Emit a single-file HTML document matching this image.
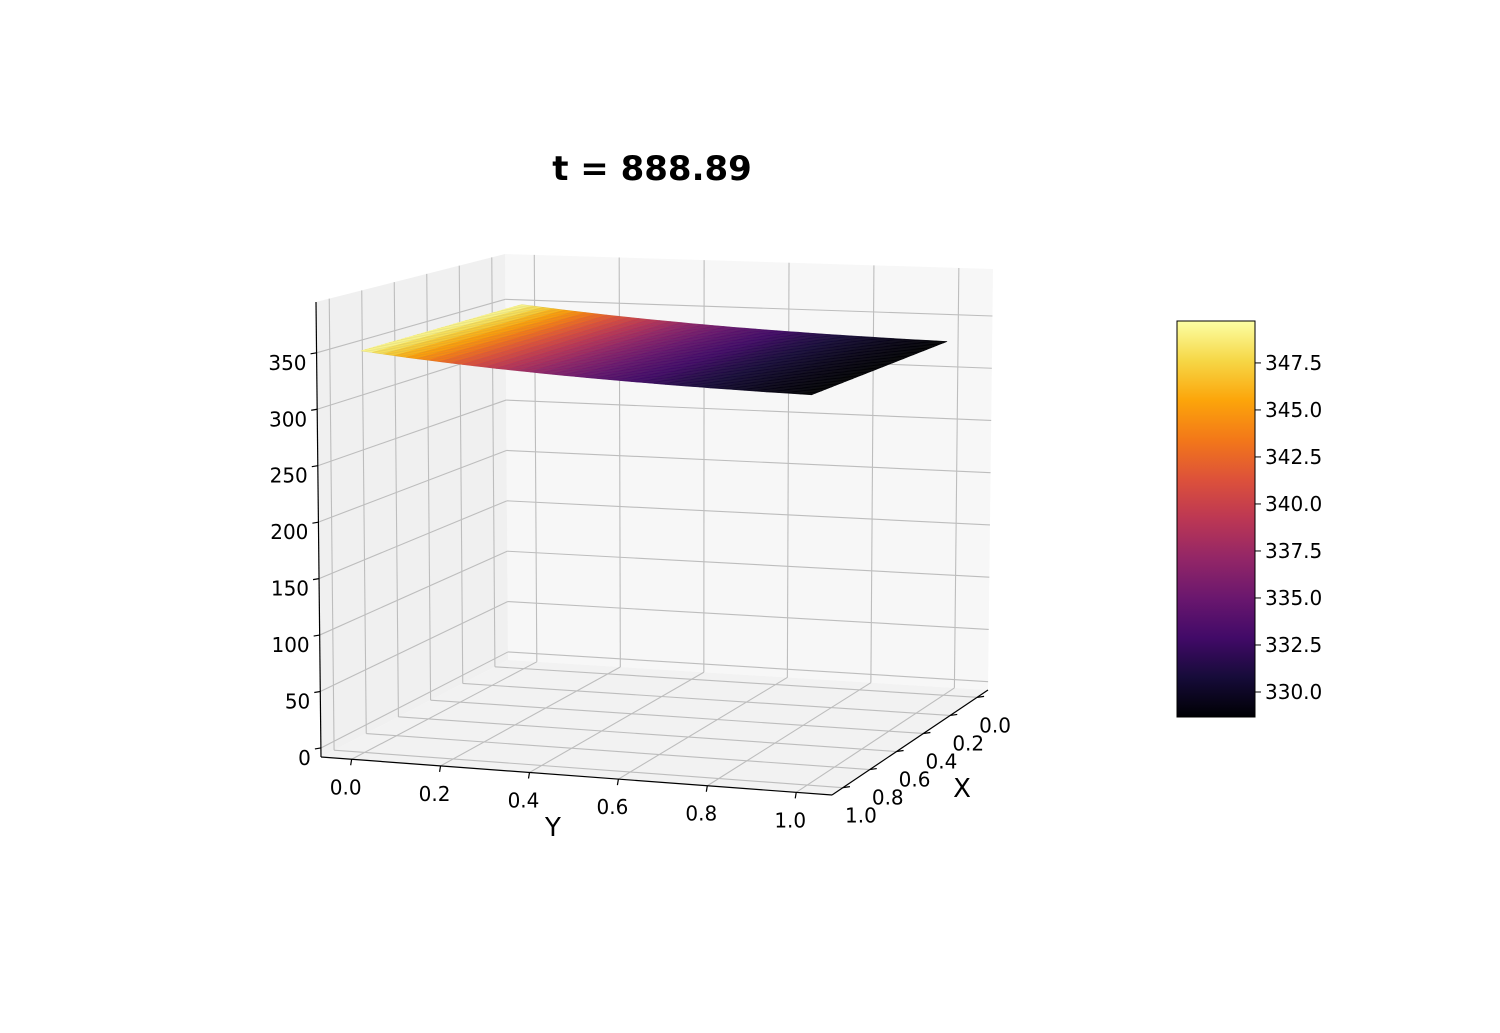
<!DOCTYPE html>
<html><head><meta charset="utf-8">
<style>
html,body{margin:0;padding:0;background:#fff;}
svg text{font-family:"DejaVu Sans","Liberation Sans",sans-serif;}
</style></head>
<body>
<svg id="chart" width="1500" height="1028" viewBox="0 0 1500 1028" xmlns="http://www.w3.org/2000/svg">
<text x="652" y="180" text-anchor="middle" font-size="34" font-weight="bold">t = 888.89</text>
<g id="panels"></g><g id="grid"></g><g id="surf"></g><g id="axes"></g><g id="cbar"></g>
</svg>
<script>
// ---- data ----
const xTicks = [0.0, 0.2, 0.4, 0.6, 0.8, 1.0];
const yTicks = [0.0, 0.2, 0.4, 0.6, 0.8, 1.0];
const zTicks = [0, 50, 100, 150, 200, 250, 300, 350];
const xTickLabels = ["0.0","0.2","0.4","0.6","0.8","1.0"];
const yTickLabels = ["0.0","0.2","0.4","0.6","0.8","1.0"];
const cbTicks = [330.0, 332.5, 335.0, 337.5, 340.0, 342.5, 345.0, 347.5];
const cbTickLabels = ["330.0","332.5","335.0","337.5","340.0","342.5","345.0","347.5"];
// temperature profile sampled along Y (surface nearly uniform along X)
const ySamples = [0.0, 0.1, 0.2, 0.3, 0.4, 0.5, 0.6, 0.7, 0.8, 0.9, 1.0];
const tProfile = [349.6, 345.6, 342.2, 339.3, 336.8, 334.7, 333.0, 331.5, 330.3, 329.3, 328.6];
const cMin = 328.67, cMax = 349.73;

// ---- projection ----
const B00=[508,660],B01=[988,690],B10=[321,757],B11=[832,795];
const T00=[505,254],T01=[993,269],T10=[316,302],T11=[838,323];
const uOf = x => 0.07 + 0.86*x;
const vOf = y => 0.06 + 0.87*y;
const zMin=-8, zMax=395;
const wOf = z => (z - zMin)/(zMax - zMin);
function bil(A,B,C,D,u,v){
  const a0=A[0]+(B[0]-A[0])*v, a1=A[1]+(B[1]-A[1])*v;
  const c0=C[0]+(D[0]-C[0])*v, c1=C[1]+(D[1]-C[1])*v;
  return [a0+(c0-a0)*u, a1+(c1-a1)*u];
}
function P(u,v,w){
  const b=bil(B00,B01,B10,B11,u,v), t=bil(T00,T01,T10,T11,u,v);
  return [b[0]+(t[0]-b[0])*w, b[1]+(t[1]-b[1])*w];
}
const NS="http://www.w3.org/2000/svg";
function mk(tag,attrs,parent){const e=document.createElementNS(NS,tag);for(const k in attrs)e.setAttribute(k,attrs[k]);parent.appendChild(e);return e;}
const pts = a => a.map(p=>p[0].toFixed(1)+","+p[1].toFixed(1)).join(" ");

const inf=[[0,0,0,4],[0.1,22,11,57],[0.2,66,10,104],[0.3,106,23,110],[0.4,147,38,103],[0.5,188,55,84],[0.6,221,81,58],[0.7,243,120,25],[0.8,252,165,10],[0.9,246,215,70],[1,252,255,164]];
function cmap(t){t=Math.max(0,Math.min(1,t));for(let i=1;i<inf.length;i++){if(t<=inf[i][0]){const a=inf[i-1],b=inf[i],f=(t-a[0])/(b[0]-a[0]);return `rgb(${Math.round(a[1]+(b[1]-a[1])*f)},${Math.round(a[2]+(b[2]-a[2])*f)},${Math.round(a[3]+(b[3]-a[3])*f)})`;}}return "rgb(252,255,164)";}

const gP=document.getElementById('panels');
let e;
e=mk('polygon',{points:pts([P(0,0,0),P(0,1,0),P(0,1,1),P(0,0,1)]),fill:'#f7f7f7'},gP);

e=mk('polygon',{points:pts([P(0,0,0),P(1,0,0),P(1,0,1),P(0,0,1)]),fill:'#f0f0f0'},gP);

e=mk('polygon',{points:pts([P(0,0,0),P(0,1,0),P(1,1,0),P(1,0,0)]),fill:'#f2f2f2'},gP);


const gG=document.getElementById('grid');
function gl(a,b,name){const l=mk('line',{x1:a[0],y1:a[1],x2:b[0],y2:b[1],stroke:'#bdbdbd','stroke-width':1.1},gG);}
zTicks.forEach(z=>{const w=wOf(z);gl(P(0,0,w),P(0,1,w),'grid-z-back');gl(P(0,0,w),P(1,0,w),'grid-z-side');});
yTicks.forEach(y=>{const v=vOf(y);gl(P(0,v,0),P(0,v,1),'grid-y-back');gl(P(0,v,0),P(1,v,0),'grid-y-floor');});
xTicks.forEach(x=>{const u=uOf(x);gl(P(u,0,0),P(u,0,1),'grid-x-side');gl(P(u,0,0),P(u,1,0),'grid-x-floor');});

function tAt(y){for(let i=1;i<ySamples.length;i++){if(y<=ySamples[i]){const f=(y-ySamples[i-1])/(ySamples[i]-ySamples[i-1]);return tProfile[i-1]+(tProfile[i]-tProfile[i-1])*f;}}return tProfile[tProfile.length-1];}
const gS=document.getElementById('surf');
const N=40;
for(let i=0;i<N;i++){for(let j=0;j<N;j++){
  const x0=i/N,x1=(i+1)/N,y0=j/N,y1=(j+1)/N;
  const z00=tAt(y0),z01=tAt(y1);
  const q=[P(uOf(x0),vOf(y0),wOf(z00)),P(uOf(x0),vOf(y1),wOf(z01)),P(uOf(x1),vOf(y1),wOf(z01)),P(uOf(x1),vOf(y0),wOf(z00))];
  const c=cmap(((z00+z01)/2-cMin)/(cMax-cMin));
  const p=mk('polygon',{points:pts(q),fill:c,stroke:c,'stroke-width':0.6},gS);
  
  
}}
// faint mesh rows
for(let i=0;i<=N;i+=1){
  const x=i/N; const row=[];
  for(let j=0;j<=N;j++){const y=j/N;row.push(P(uOf(x),vOf(y),wOf(tAt(y))));}
  const pl=mk('polyline',{points:pts(row),fill:'none',stroke:'rgba(120,120,120,0.18)','stroke-width':0.6},gS);
  
  
}

const gA=document.getElementById('axes');
function al(a,b,name){const l=mk('line',{x1:a[0],y1:a[1],x2:b[0],y2:b[1],stroke:'#000','stroke-width':1.2},gA);}
al(P(1,0,0),P(1,0,1),'z-axis-line');
al(P(1,0,0),P(1,1,0),'y-axis-line');
al(P(1,1,0),P(0,1,0),'x-axis-line');
function txt(x,y,s,anchor,size,name){const t=mk('text',{x:x,y:y,'text-anchor':anchor,'font-size':size},gA);t.textContent=s;return t;}
zTicks.forEach(z=>{const p=P(1,0,wOf(z));al([p[0]-6,p[1]+1],p,'z-tick');txt(p[0]-10,p[1]+17,String(z),'end',20,'z-tick-label');});
yTicks.forEach((y,i)=>{const p=P(1,vOf(y),0);al(p,[p[0]-1,p[1]+6],'y-tick');txt(p[0]-6,p[1]+35,yTickLabels[i],'middle',20,'y-tick-label');});
xTicks.forEach((x,i)=>{const p=P(uOf(x),1,0);al(p,[p[0]+7,p[1]-1],'x-tick');txt(p[0]+18,p[1]+35,xTickLabels[i],'middle',20,'x-tick-label');});
txt(553,836,'Y','middle',26,'y-axis-title');
txt(962,797,'X','middle',26,'x-axis-title');

const gC=document.getElementById('cbar');
const cbX=1177,cbY=321,cbW=78,cbH=396;
const defs=mk('defs',{},gC);
const lg=mk('linearGradient',{id:'cbg',x1:0,y1:1,x2:0,y2:0},defs);
inf.forEach(s=>{mk('stop',{offset:s[0],'stop-color':`rgb(${s[1]},${s[2]},${s[3]})`},lg);});
e=mk('rect',{x:cbX,y:cbY,width:cbW,height:cbH,fill:'url(#cbg)',stroke:'#000','stroke-width':1},gC);

const cbYof=v=>cbY+cbH*(cMax-v)/(cMax-cMin);
cbTicks.forEach((v,i)=>{const y=cbYof(v);
  const l=mk('line',{x1:cbX+cbW,y1:y,x2:cbX+cbW+6,y2:y,stroke:'#000','stroke-width':1},gC);
  
  const t=mk('text',{x:cbX+cbW+10,y:y+7,'font-size':20},gC);t.textContent=cbTickLabels[i];
  
});
</script>
</body></html>
